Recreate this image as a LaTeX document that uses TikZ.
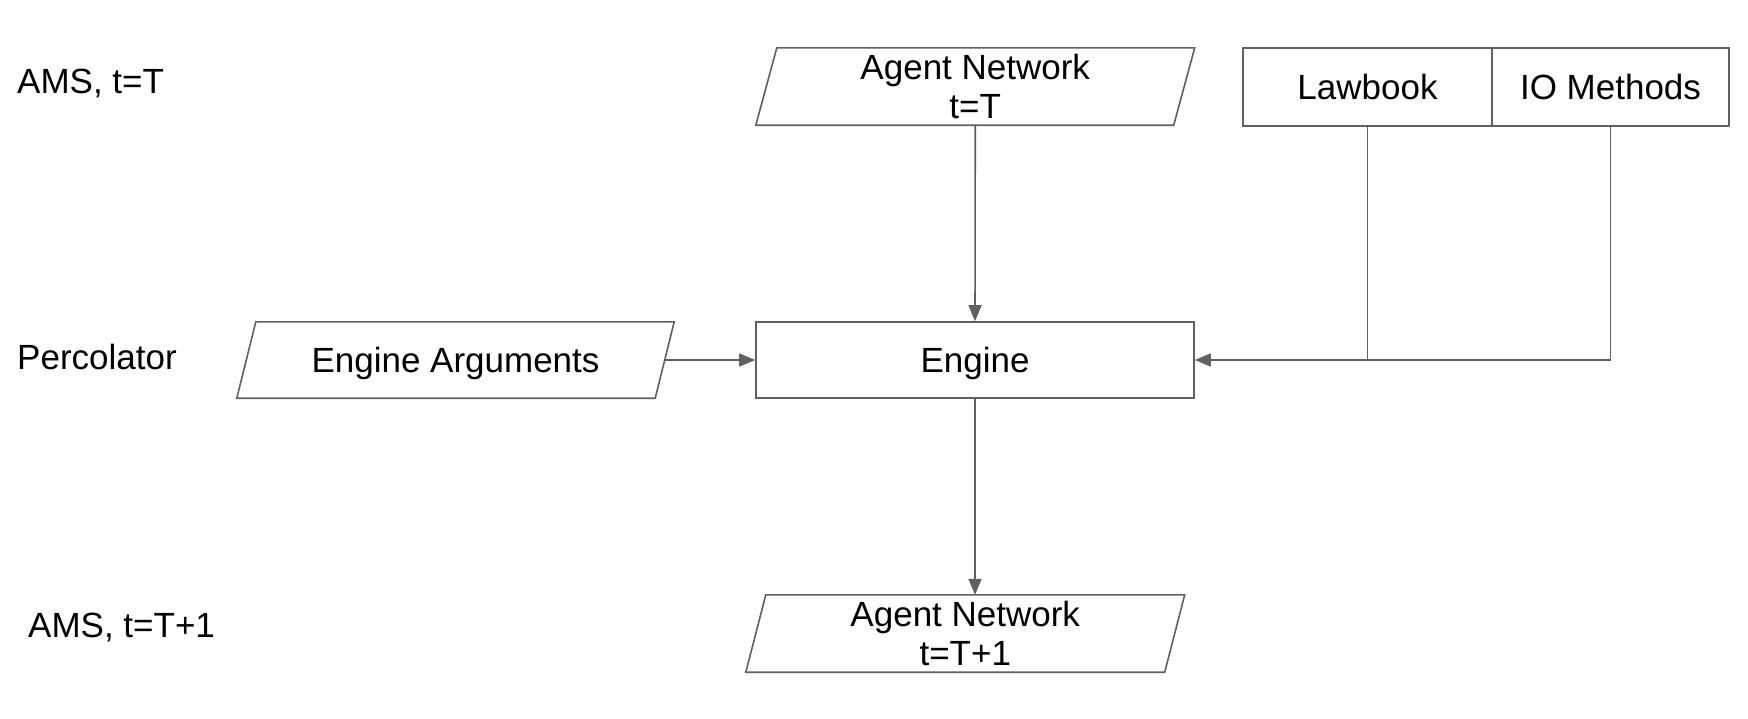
\documentclass[tikz,border=0pt]{standalone}
\usepackage{fontspec}
\setmainfont{Liberation Sans}
\usetikzlibrary{arrows.meta,calc}
\definecolor{linegray}{HTML}{606060}
\tikzset{
  txt/.style={font=\fontsize{35}{39}\selectfont},
  one/.style={text height=25pt, text depth=0pt},
  box/.style={draw=linegray, line width=1.6pt, inner sep=0pt, align=center, txt},
  para/.style={inner sep=0pt, align=center, txt},
  lbl/.style={inner sep=0pt, anchor=west, txt, one},
  conn/.style={draw=linegray, line width=1.6pt},
  arr/.style={conn, -{Triangle[length=16pt,width=13pt]}},
}
\newcommand{\paradraw}[2]{%
  \draw[draw=linegray, line width=1.6pt, line join=miter]
    ($(#1.north west)+(#2,0)$) -- ($(#1.north east)+(#2,0)$) --
    ($(#1.south east)-(#2,0)$) -- ($(#1.south west)-(#2,0)$) -- cycle;}
\begin{document}
\begin{tikzpicture}[x=1pt,y=-1pt]
\useasboundingbox (0,0) rectangle (1748,718);
% left labels
\node[lbl] (l1) at (17,81) {AMS, t=T};
\node[lbl] (l2) at (17,357) {Percolator};
\node[lbl] (l3) at (28,625) {AMS, t=T+1};
% nodes
\node[para, minimum width=417.5pt, minimum height=77pt] (an1) at (975.25,86.5) {Agent Network\\t=T};
\paradraw{an1}{10.5}
\node[box, one, minimum width=249pt, minimum height=78pt] (law) at (1367.5,87) {Lawbook};
\node[box, one, minimum width=237pt, minimum height=78pt] (io) at (1610.5,87) {IO Methods};
\node[box, one, minimum width=438pt, minimum height=76pt] (eng) at (975,360) {Engine};
\node[para, one, minimum width=418pt, minimum height=76pt] (args) at (455.5,360) {Engine Arguments};
\paradraw{args}{9.5}
\node[para, minimum width=418.5pt, minimum height=77pt] (an2) at (965.25,633.5) {Agent Network\\t=T+1};
\paradraw{an2}{10}
% connectors
\draw[arr] (an1.south) -- (eng.north);
\draw[arr] (args.east) -- (eng.west);
\draw[arr] (eng.south) -- (eng.south |- an2.north);
\draw[arr] (law.south) |- (eng.east);
\draw[conn] (io.south) |- (law.south |- eng.east);
\end{tikzpicture}
\end{document}
